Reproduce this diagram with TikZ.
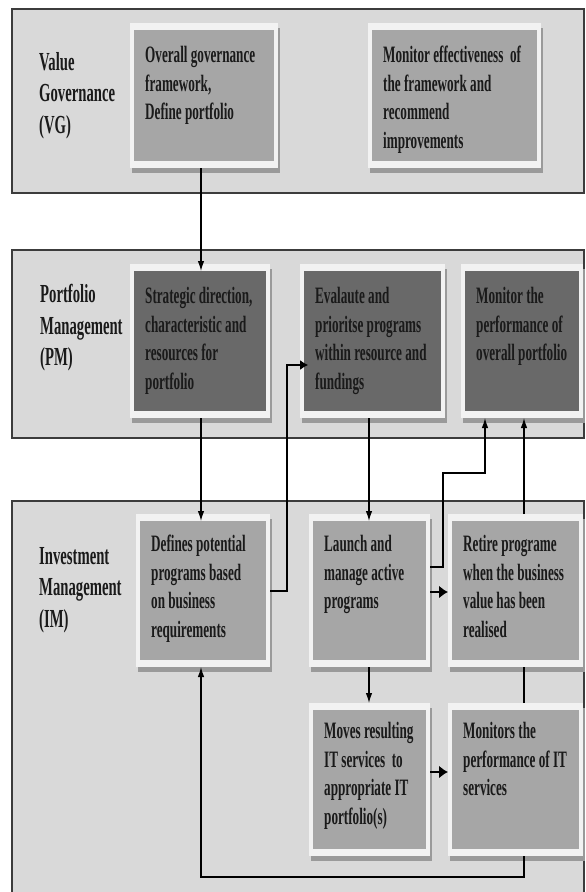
\documentclass[tikz,border=0pt]{standalone}
\usepackage{fontspec}
\newfontfamily\dfont[FakeStretch=0.56]{Liberation Serif Bold}
\newfontfamily\lfont[FakeStretch=0.565]{Liberation Serif Bold}
\usetikzlibrary{arrows.meta,calc}
\definecolor{bandc}{HTML}{D9D9D9}
\definecolor{bandline}{HTML}{3C3C3C}
\definecolor{framec}{HTML}{F2F2F2}
\definecolor{shadowc}{HTML}{9A9A9A}
\definecolor{lightin}{HTML}{A6A6A6}
\definecolor{darkin}{HTML}{696969}
\definecolor{txtc}{HTML}{1A1A1A}
\tikzset{
  band/.style={draw=bandline, line width=2pt, fill=bandc},
  frame/.style={fill=framec, inner sep=0pt, outer sep=0pt},
  boxtext/.style={anchor=north west, inner sep=0pt, align=left, text=txtc,
    font=\dfont\fontsize{23.5}{28.5}\selectfont},
  lanelabel/.style={anchor=north west, inner sep=0pt, align=left, text=txtc,
    font=\lfont\fontsize{26}{31.5}\selectfont},
  conn/.style={line width=1.2pt, draw=black},
  arr/.style={conn, -{Latex[length=10pt,width=6.5pt]}},
  harr/.style={conn, -{Latex[length=8pt,width=10pt]}},
  tarr/.style={line width=2.5pt, draw=black, -{Latex[length=9pt,width=13pt]}},
}
% name, x1, y1, x2, y2, inner fill, text top offset, text
\newcommand\gbox[8]{%
  \fill[shadowc] ({#2+2},{#3+5}) rectangle ({#4+2},{#5+5});
  \node[frame, minimum width={(#4-#2)*1pt}, minimum height={(#5-#3)*1pt}] (#1) at ({(#2+#4)/2},{(#3+#5)/2}) {};
  \node[fill=#6, inner sep=0pt, outer sep=0pt, minimum width={(#4-#2-8)*1pt}, minimum height={(#5-#3-14)*1pt}] (#1i) at (#1.center) {};
  \node[boxtext] (#1t) at ({#2+15},{#3+#7}) {#8};
}
\begin{document}
\begin{tikzpicture}[x=1pt,y=-1pt]
\useasboundingbox (0,0) rectangle (586,892);
\clip (0,0) rectangle (586,892);
\fill[white] (0,0) rectangle (586,892);

% bands
\node[band, minimum width=572pt, minimum height=184pt, inner sep=0pt] (vgband) at (298,101) {};
\node[band, minimum width=572pt, minimum height=188pt, inner sep=0pt] (pmband) at (298,344) {};
\node[band, minimum width=572pt, minimum height=420pt, inner sep=0pt] (imband) at (298,711) {};

% lane labels
\node[lanelabel] (vglab) at (39,52) {Value\\Governance\\(VG)};
\node[lanelabel] (pmlab) at (40,284) {Portfolio\\Management\\(PM)};
\node[lanelabel] (imlab) at (39,547) {Investment\\Management\\(IM)};

% boxes
\gbox{vgA}{130}{23}{278}{168}{lightin}{23}{Overall governance\\framework,\\Define portfolio}
\gbox{vgB}{368}{23}{541}{168}{lightin}{23}{Monitor effectiveness\ \ of\\the framework and\\recommend\\improvements}
\gbox{pmA}{130}{264}{270}{418}{darkin}{23}{Strategic direction,\\characteristic and\\resources for\\portfolio}
\gbox{pmB}{300}{264}{445}{418}{darkin}{23}{Evalaute and\\prioritse programs\\within resource and\\fundings}
\gbox{pmC}{461}{264}{583}{418}{darkin}{23}{Monitor the\\performance of\\overall portfolio}
\gbox{imD}{136}{514}{270}{667}{lightin}{21}{Defines potential\\programs based\\on business\\requirements}
\gbox{imE}{309}{514}{430}{667}{lightin}{21}{Launch and\\manage active\\programs}
\gbox{imF}{448}{514}{583}{667}{lightin}{21}{Retire programe\\when the business\\value has been\\realised}
\gbox{imG}{309}{703}{430}{856}{lightin}{19}{Moves resulting\\IT services\ \ to\\appropriate IT\\portfolio(s)}
\gbox{imH}{448}{703}{583}{856}{lightin}{19}{Monitors the\\performance of IT\\services}

% helper coordinates
\coordinate (xD) at (201,0);
\coordinate (xE) at (369,0);
\coordinate (xF) at (524,0);
\coordinate (d1) at (287,591);
\coordinate (d2) at (287,365);
\coordinate (e1) at (443,567);
\coordinate (e2) at (485,473);
\coordinate (r1) at (0,592);
\coordinate (r2) at (0,772);
\coordinate (h1) at (524,877);

% connectors
\draw[arr] (vgA.south -| xD) -- (pmAi.north -| xD);
\draw[arr] (pmA.south -| xD) -- (imDi.north -| xD);
\draw[harr, shorten >=-4pt] (imD.east |- d1) -- (d1) -- (d2) -- (pmBi.west |- d2);
\draw[arr] (pmB.south -| xE) -- (imEi.north -| xE);
\draw[arr] (imE.east |- e1) -- (e1) |- (e2) -- (e2 |- pmC.south);
\draw[arr] (imF.north -| xF) -- (pmC.south -| xF);
\draw[tarr] (imE.east |- r1) -- (imF.west |- r1);
\draw[arr] (imE.south -| xE) -- (imG.north -| xE);
\draw[conn] (imF.south -| xF) -- (imH.north -| xF);
\draw[tarr] (imG.east |- r2) -- (imH.west |- r2);
\draw[arr] (imH.south -| h1) -- (h1) -| (imD.south -| xD);
\end{tikzpicture}
\end{document}
